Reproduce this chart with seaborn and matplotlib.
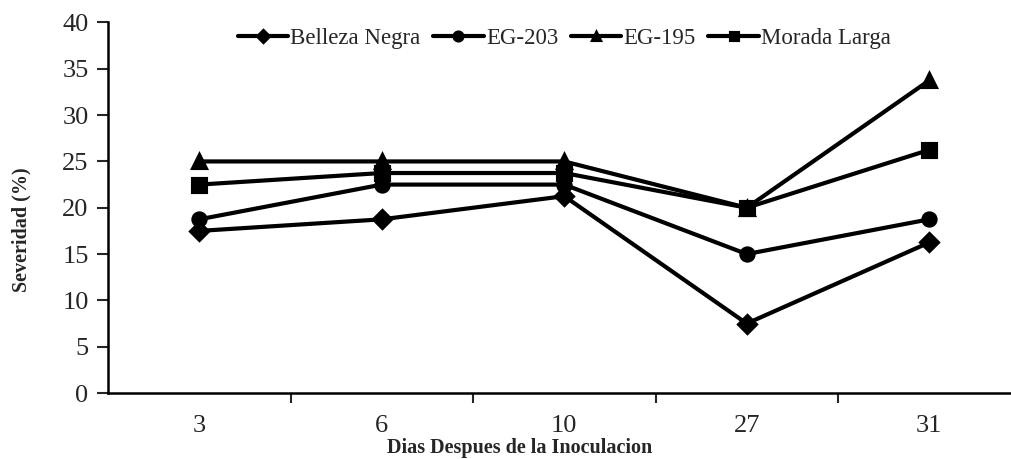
import matplotlib
matplotlib.use("Agg")
import matplotlib.pyplot as plt
import seaborn as sns
import pandas as pd

dias = ["3", "6", "10", "27", "31"]
belleza_negra = [17.5, 18.75, 21.25, 7.5, 16.25]
eg_203 = [18.75, 22.5, 22.5, 15.0, 18.75]
eg_195 = [25.0, 25.0, 25.0, 20.0, 33.75]
morada_larga = [22.5, 23.75, 23.75, 20.0, 26.25]
cultivares = ["Belleza Negra", "EG-203", "EG-195", "Morada Larga"]
yticks = [0, 5, 10, 15, 20, 25, 30, 35, 40]

series = [belleza_negra, eg_203, eg_195, morada_larga]
rows = []
for c, vals in zip(cultivares, series):
    for d, v in zip(dias, vals):
        rows.append({"Dia": d, "Severidad": v, "Cultivar": c})
df = pd.DataFrame(rows)

sns.set_style("ticks")
plt.rcParams["font.family"] = "serif"
plt.rcParams["font.serif"] = ["Liberation Serif", "DejaVu Serif"]

fig = plt.figure(figsize=(10.11, 4.59), dpi=100)
ax = fig.add_axes([108 / 1011, 1 - 393 / 459, 912.5 / 1011, (393 - 22.5) / 459])

sns.pointplot(data=df, x="Dia", y="Severidad", hue="Cultivar", order=dias,
              hue_order=cultivares, palette=["black"] * 4,
              markers=["D", "o", "^", "s"], linestyles="-", errorbar=None,
              markersize=9.5, linewidth=3.0, ax=ax)

ax.set_xlim(-0.5, 4.5)
ax.set_ylim(0, 40)
ax.set_yticks(yticks)
ax.set_yticklabels([str(t) for t in yticks], fontsize=19)
ax.tick_params(axis="y", direction="out", length=8, width=1.5, pad=6)
ax.tick_params(axis="x", which="major", length=0, pad=16, labelsize=19)
ax.set_xticks([0.5, 1.5, 2.5, 3.5], minor=True)
ax.tick_params(axis="x", which="minor", direction="out", length=7, width=1.5)

for s in ["top", "right"]:
    ax.spines[s].set_visible(False)
for s in ["left", "bottom"]:
    ax.spines[s].set_linewidth(1.8)
    ax.spines[s].set_color("black")

ax.set_xlabel("Dias Despues de la Inoculacion", fontsize=14.5, fontweight="bold")
ax.xaxis.set_label_coords((520 - 108) / 912.5, -0.122)
ax.set_ylabel("Severidad (%)", fontsize=14.5, fontweight="bold")
ax.yaxis.set_label_coords(-0.084, 0.44)

sns.move_legend(ax, "upper center", bbox_to_anchor=(0.5, 1.04),
                ncol=4, frameon=False, fontsize=16.5, title=None,
                handlelength=2.2, handletextpad=0.1, columnspacing=0.55,
                markerscale=0.68)

fig.savefig("out.png", dpi=100)
